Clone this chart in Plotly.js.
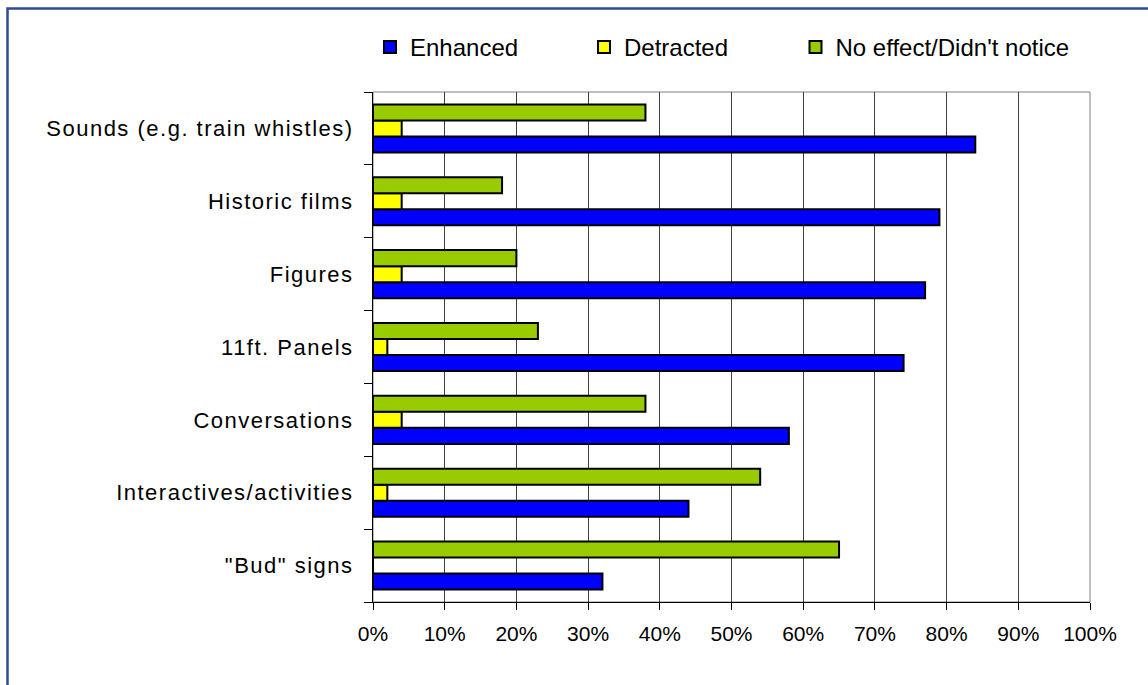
<!DOCTYPE html>
<html>
<head>
<meta charset="utf-8">
<script src="https://cdn.plot.ly/plotly-3.0.1.min.js"></script>
<style>
  html, body { margin: 0; padding: 0; background: #ffffff; }
  #chart { width: 1148px; height: 685px; }
  .ytick text { letter-spacing: 1.5px; }
</style>
</head>
<body>
<div id="chart"></div>
<script>
// Exhibit elements, listed top to bottom
const categories = [
  'Sounds (e.g. train whistles)',
  'Historic films',
  'Figures',
  '11ft. Panels',
  'Conversations',
  'Interactives/activities',
  '"Bud" signs'
];

// Share of visitors per response (fractions of 1)
const enhanced  = [0.84, 0.79, 0.77, 0.74, 0.58, 0.44, 0.32];
const detracted = [0.04, 0.04, 0.04, 0.02, 0.04, 0.02, 0.00];
const noEffect  = [0.38, 0.18, 0.20, 0.23, 0.38, 0.54, 0.65];

const seriesNames  = ['Enhanced', 'Detracted', "No effect/Didn't notice"];
const seriesColors = ['#0000FF', '#FFFF00', '#99CC00'];
const seriesValues = [enhanced, detracted, noEffect];

const W = 1148, H = 685;
const margin = { l: 373, r: 58, t: 92, b: 83 };
const plotW = W - margin.l - margin.r;
const plotH = H - margin.t - margin.b;
const px2x = px => (px - margin.l) / plotW;
const px2y = py => (H - margin.b - py) / plotH;

// each series gets its own legend box so the three entries sit in one row
const legendIds  = ['legend', 'legend2', 'legend3'];
const legendLeft = [370, 584, 795.5];

const traces = seriesValues.map((vals, i) => ({
  type: 'bar',
  orientation: 'h',
  name: seriesNames[i],
  legend: legendIds[i],
  x: vals,
  y: categories,
  marker: { color: seriesColors[i], line: { color: '#000000', width: 2 } },
  hoverinfo: 'x+y+name'
}));

const legendFont = { family: 'Liberation Sans, Arial, sans-serif', size: 24, color: '#000000' };

const layout = {
  width: W,
  height: H,
  margin: margin,
  paper_bgcolor: '#ffffff',
  plot_bgcolor: '#ffffff',
  font: { family: 'Liberation Sans, Arial, sans-serif', size: 22, color: '#000000' },
  barmode: 'group',
  bargap: 0.34,
  bargroupgap: 0,
  showlegend: true,
  xaxis: {
    range: [0, 1],
    dtick: 0.1,
    tick0: 0,
    tickformat: '.0%',
    showgrid: true,
    gridcolor: '#404040',
    gridwidth: 1,
    zeroline: false,
    showline: true,
    linecolor: '#000000',
    linewidth: 1,
    ticks: 'outside',
    ticklen: 7,
    tickcolor: '#000000',
    ticklabelstandoff: 6,
    tickfont: { size: 21 },
    fixedrange: true
  },
  yaxis: {
    type: 'category',
    categoryorder: 'array',
    categoryarray: categories.slice().reverse(),
    showgrid: false,
    zeroline: false,
    showline: true,
    linecolor: '#000000',
    linewidth: 1,
    ticks: 'outside',
    tickson: 'boundaries',
    ticklen: 8,
    tickcolor: '#000000',
    ticklabelstandoff: 14,
    tickfont: { size: 22 },
    fixedrange: true
  },
  shapes: [
    // plot area frame (top and right edges in grey)
    {
      type: 'rect', xref: 'paper', yref: 'paper',
      x0: 0, x1: 1, y0: 0, y1: 1,
      line: { color: '#808080', width: 1 },
      layer: 'below'
    },
    // outer chart border
    {
      type: 'rect', xref: 'paper', yref: 'paper',
      x0: px2x(7.5), x1: px2x(1160), y0: px2y(700), y1: px2y(8.5),
      line: { color: '#2D4A93', width: 2.5 },
      layer: 'above'
    }
  ]
};

legendIds.forEach((id, i) => {
  layout[id] = {
    orientation: 'h',
    x: px2x(legendLeft[i]),
    xanchor: 'left',
    y: px2y(47.5),
    yanchor: 'middle',
    font: legendFont,
    bgcolor: 'rgba(0,0,0,0)'
  };
});

Plotly.newPlot('chart', traces, layout, { displayModeBar: false });
</script>
</body>
</html>
